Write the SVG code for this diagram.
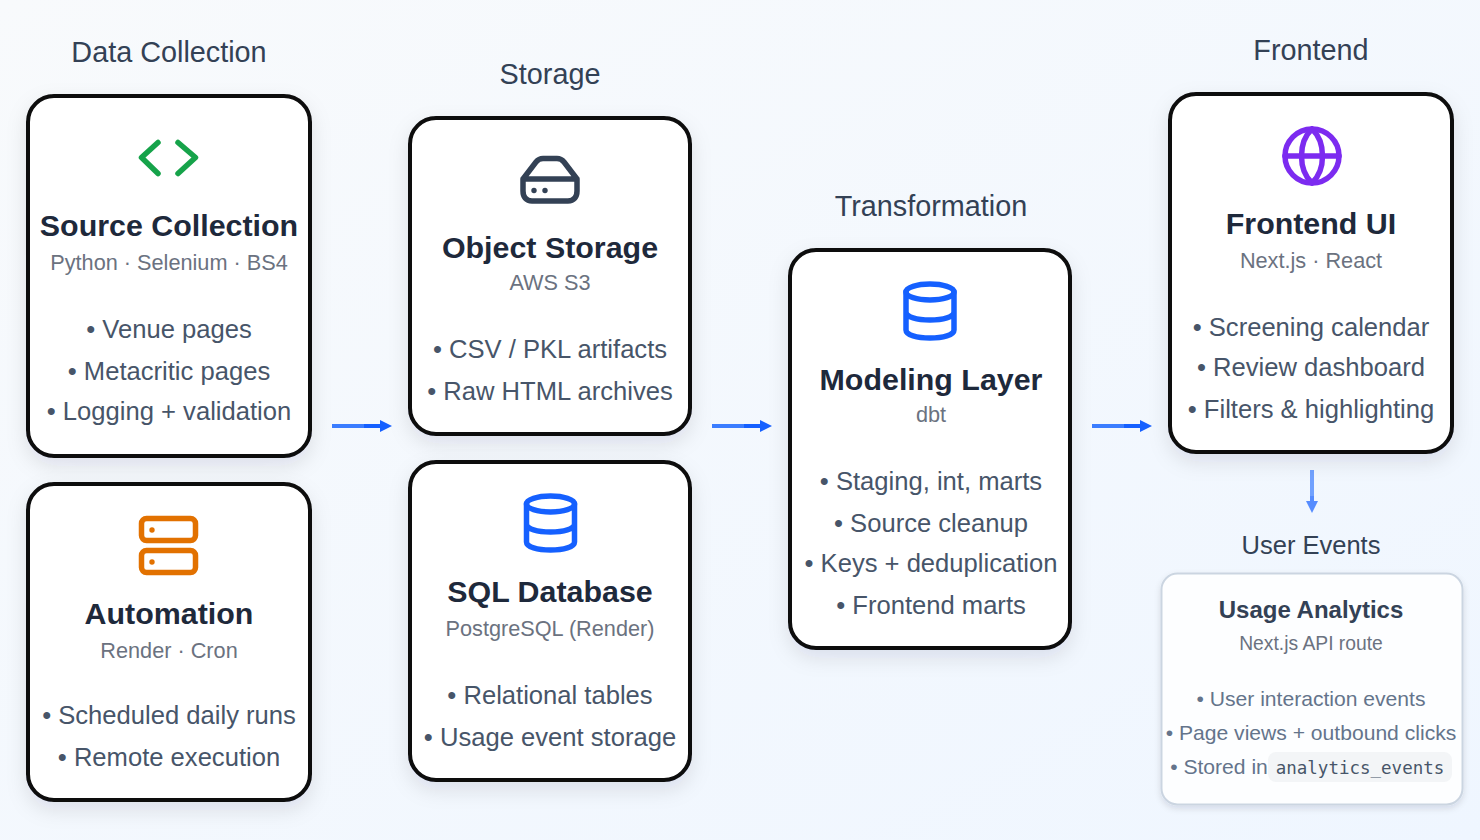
<svg xmlns="http://www.w3.org/2000/svg" width="1480" height="840" viewBox="0 0 1480 840">
<style>
text{font-family:"Liberation Sans",Arial,sans-serif;text-anchor:middle}
.sec{font-size:28.800px;fill:#334155}
.t{font-size:30.400px;font-weight:700;fill:#1e293b}
.s{font-size:21.700px;fill:#6b7280}
.b{font-size:25.600px;fill:#475569}
.card{fill:#fff;stroke:#0a0a0a;stroke-width:4;filter:url(#sh)}
.ic{fill:none;stroke-width:5.500;stroke-linecap:round;stroke-linejoin:round}
.c1{stroke:#3b7dff;stroke-width:4;fill:none}
.c2{stroke:#1560ff;stroke-width:4;fill:none}
</style>
<defs>
<linearGradient id="bg" x1="0" y1="0" x2="1" y2="1"><stop offset="0" stop-color="#f8fafc"/><stop offset="1" stop-color="#eff6ff"/></linearGradient>
<filter id="sh" x="-20%" y="-20%" width="140%" height="140%"><feDropShadow dx="0" dy="8" stdDeviation="10" flood-color="#0f172a" flood-opacity=".1"/></filter>
<filter id="sh2" x="-10%" y="-10%" width="120%" height="120%"><feDropShadow dx="0" dy="3" stdDeviation="3" flood-color="#0f172a" flood-opacity=".12"/></filter>
<marker id="ah" markerUnits="userSpaceOnUse" markerWidth="12" markerHeight="12" refX="2" refY="6" orient="auto"><path d="M0 0L12 6L0 12Z" fill="#1560ff"/></marker>
<g id="db"><ellipse cx="0" cy="-20" rx="24" ry="8" class="ic"/><path d="M-24 -20V18C-24 23 -13 26 0 26S24 23 24 18V-20M-24 0C-24 5 -13 8 0 8S24 5 24 0" class="ic"/></g>
</defs>
<rect width="1480" height="840" fill="url(#bg)"/>
<text class="sec" x="169" y="62">Data Collection</text>
<text class="sec" x="550" y="84">Storage</text>
<text class="sec" x="931" y="216">Transformation</text>
<text class="sec" x="1311" y="60">Frontend</text>
<text class="sec" x="1311" y="554" style="font-size:25.500px">User Events</text>
<g id="connectors">
<path class="c1" d="M332 426H364"/><path class="c2" d="M364 426H382" marker-end="url(#ah)"/>
<path class="c1" d="M712 426H744"/><path class="c2" d="M744 426H762" marker-end="url(#ah)"/>
<path class="c1" d="M1092 426H1124"/><path class="c2" d="M1124 426H1142" marker-end="url(#ah)"/>
<g opacity=".7"><path class="c1" d="M1312 470V496"/><path class="c2" d="M1312 496V503" marker-end="url(#ah)"/></g>
</g>
<g id="source">
<rect class="card" x="28" y="96" width="282" height="360" rx="26"/>
<path class="ic" stroke="#16a34a" d="M158 142.500L141.500 157.500L158 173.500M178 142.500L195.500 157.500L178 173.500"/>
<text class="t" x="169" y="236">Source Collection</text>
<text class="s" x="169" y="270">Python · Selenium · BS4</text>
<text class="b" x="169" y="338">• Venue pages</text>
<text class="b" x="169" y="380">• Metacritic pages</text>
<text class="b" x="169" y="420">• Logging + validation</text>
</g>
<g id="automation">
<rect class="card" x="28" y="484" width="282" height="316" rx="26"/>
<g class="ic" stroke="#e27100"><rect x="141.500" y="518.500" width="54" height="22" rx="5"/><rect x="141.500" y="550.500" width="54" height="22" rx="5"/></g>
<circle cx="152" cy="530" r="2.700" fill="#e27100"/><circle cx="152" cy="562" r="2.700" fill="#e27100"/>
<text class="t" x="169" y="624">Automation</text>
<text class="s" x="169" y="658">Render · Cron</text>
<text class="b" x="169" y="724">• Scheduled daily runs</text>
<text class="b" x="169" y="766">• Remote execution</text>
</g>
<g id="object">
<rect class="card" x="410" y="118" width="280" height="316" rx="26"/>
<path class="ic" stroke="#334155" d="M523 179H577M523 179V191C523 197 526 201 532 201H568C574 201 577 197 577 191V179L564 162C562 159.500 560 158.500 557 158.500H543C540 158.500 538 159.500 536 162Z"/>
<circle cx="534" cy="190.500" r="2.700" fill="#334155"/><circle cx="545" cy="190.500" r="2.700" fill="#334155"/>
<text class="t" x="550" y="258">Object Storage</text>
<text class="s" x="550" y="290">AWS S3</text>
<text class="b" x="550" y="358">• CSV / PKL artifacts</text>
<text class="b" x="550" y="400">• Raw HTML archives</text>
</g>
<g id="sql">
<rect class="card" x="410" y="462" width="280" height="318" rx="26"/>
<use href="#db" x="550.500" y="524" stroke="#1560ff"/>
<text class="t" x="550" y="602">SQL Database</text>
<text class="s" x="550" y="636">PostgreSQL (Render)</text>
<text class="b" x="550" y="704">• Relational tables</text>
<text class="b" x="550" y="746">• Usage event storage</text>
</g>
<g id="modeling">
<rect class="card" x="790" y="250" width="280" height="398" rx="26"/>
<use href="#db" x="930" y="312" stroke="#1560ff"/>
<text class="t" x="931" y="390">Modeling Layer</text>
<text class="s" x="931" y="422">dbt</text>
<text class="b" x="931" y="490">• Staging, int, marts</text>
<text class="b" x="931" y="532">• Source cleanup</text>
<text class="b" x="931" y="572">• Keys + deduplication</text>
<text class="b" x="931" y="614">• Frontend marts</text>
</g>
<g id="frontend">
<rect class="card" x="1170" y="94" width="282" height="358" rx="26"/>
<g class="ic" stroke="#7c2bf0"><circle cx="1312" cy="156" r="27"/><path d="M1312 129C1298 142 1298 170 1312 183C1326 170 1326 142 1312 129M1285 156H1339"/></g>
<text class="t" x="1311" y="234">Frontend UI</text>
<text class="s" x="1311" y="268">Next.js · React</text>
<text class="b" x="1311" y="336">• Screening calendar</text>
<text class="b" x="1311" y="376">• Review dashboard</text>
<text class="b" x="1311" y="418">• Filters &amp; highlighting</text>
</g>
<g id="usage">
<rect x="1161.500" y="573.500" width="301" height="231" rx="16" fill="#fdfeff" stroke="#cbd5e1" stroke-width="2" filter="url(#sh2)"/>
<text x="1311" y="618" style="font-size:24px;font-weight:700;fill:#334155">Usage Analytics</text>
<text x="1311" y="650" style="font-size:19.300px;fill:#6b7280">Next.js API route</text>
<text x="1311" y="706" style="font-size:21.100px;fill:#64748b">• User interaction events</text>
<text x="1311" y="740" style="font-size:21.100px;fill:#64748b">• Page views + outbound clicks</text>
<text x="1219" y="774" style="font-size:21.100px;fill:#64748b">• Stored in</text>
<rect x="1268" y="752" width="184" height="30" rx="8" fill="#f3f5f7"/>
<text x="1360" y="774" style="font-family:'DejaVu Sans Mono',monospace;font-size:17.500px;fill:#475569">analytics_events</text>
</g>
</svg>
